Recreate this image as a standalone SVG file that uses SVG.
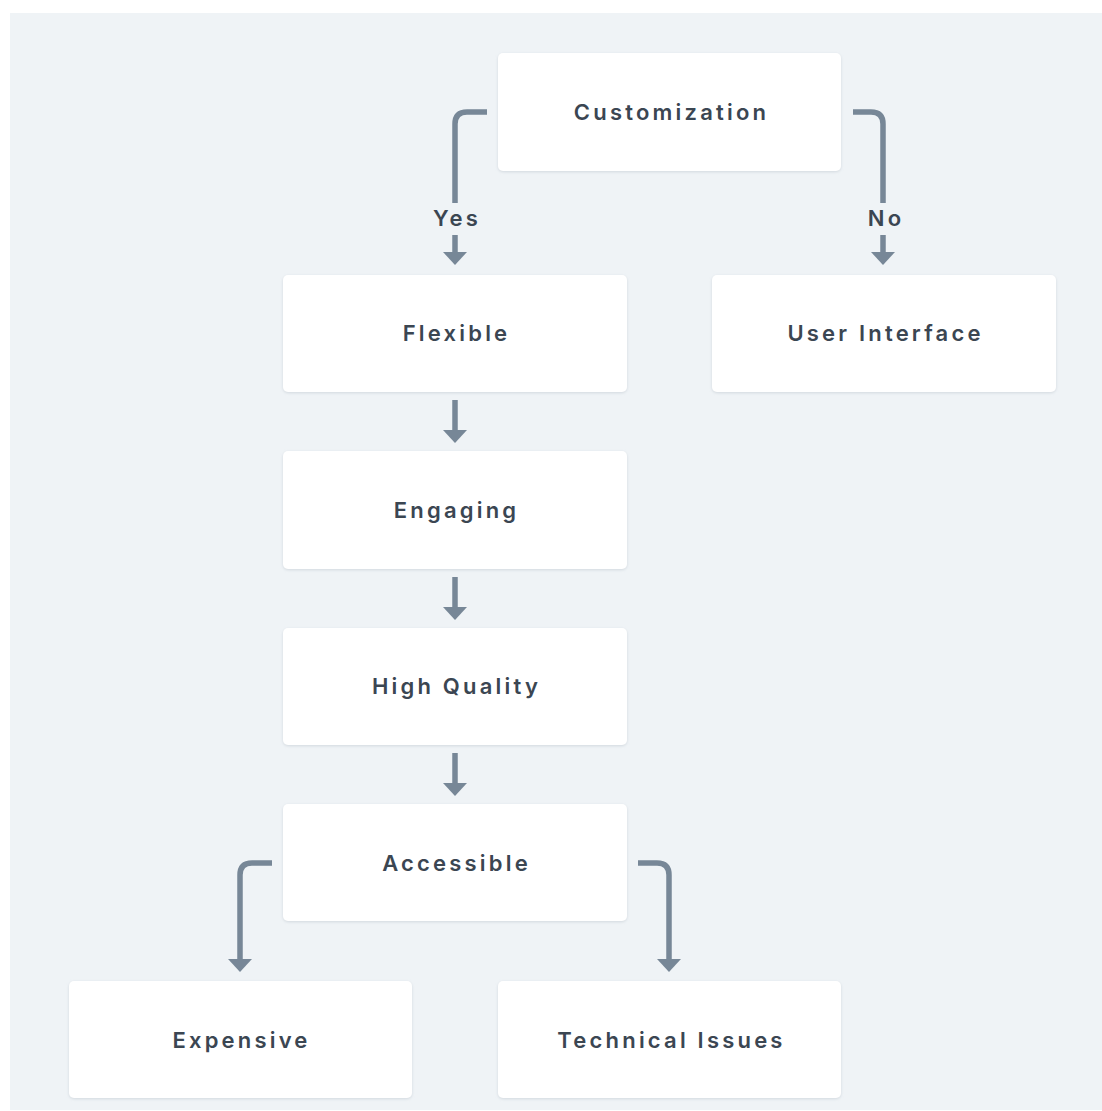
<svg xmlns="http://www.w3.org/2000/svg" width="1102" height="1111" viewBox="0 0 1102 1111">
<defs>
<style>
.bg{fill:#eff3f6}
.node rect{fill:#ffffff;filter:url(#sh)}
.node text,.lbl{font-family:Inter,"Noto Sans","DejaVu Sans",sans-serif;font-size:22px;font-weight:600;fill:#3b4652;text-anchor:middle;letter-spacing:3.2px}
.edge{fill:none;stroke:#778797;stroke-width:5.5}
.head{fill:#778797}
</style>
<filter id="sh" x="-10%" y="-10%" width="120%" height="130%">
<feDropShadow dx="0" dy="1" stdDeviation="1.5" flood-color="#9aa6b2" flood-opacity="0.35"/>
</filter>
</defs>
<rect class="bg" x="10" y="13" width="1092" height="1097"/>
<g id="connectors">
<path class="edge" d="M487,112 H467 Q455,112 455,124 V203"/>
<path class="edge" d="M455,235 V252"/>
<path class="head" d="M443,252 L467,252 L455,265 Z"/>
<text class="lbl" x="457" y="226">Yes</text>
<path class="edge" d="M853,112 H871 Q883,112 883,124 V203"/>
<path class="edge" d="M883,235 V252"/>
<path class="head" d="M871,252 L895,252 L883,265 Z"/>
<text class="lbl" x="886" y="226">No</text>
<path class="edge" d="M455,400 V430"/>
<path class="head" d="M443,430 L467,430 L455,443 Z"/>
<path class="edge" d="M455,577 V607"/>
<path class="head" d="M443,607 L467,607 L455,620 Z"/>
<path class="edge" d="M455,753 V783"/>
<path class="head" d="M443,783 L467,783 L455,796 Z"/>
<path class="edge" d="M272,863 H252 Q240,863 240,875 V959"/>
<path class="head" d="M228,959 L252,959 L240,972 Z"/>
<path class="edge" d="M638,863 H657 Q669,863 669,875 V959"/>
<path class="head" d="M657,959 L681,959 L669,972 Z"/>
</g>
<g id="customization" class="node"><rect x="498" y="53" width="343" height="118" rx="5"/><text x="671.5" y="120">Customization</text></g>
<g id="flexible" class="node"><rect x="283" y="275" width="344" height="117" rx="5"/><text x="456.5" y="341">Flexible</text></g>
<g id="user-interface" class="node"><rect x="712" y="275" width="344" height="117" rx="5"/><text x="885.5" y="341">User Interface</text></g>
<g id="engaging" class="node"><rect x="283" y="451" width="344" height="118" rx="5"/><text x="456.5" y="518">Engaging</text></g>
<g id="high-quality" class="node"><rect x="283" y="628" width="344" height="117" rx="5"/><text x="456.5" y="694">High Quality</text></g>
<g id="accessible" class="node"><rect x="283" y="804" width="344" height="117" rx="5"/><text x="456.5" y="871">Accessible</text></g>
<g id="expensive" class="node"><rect x="69" y="981" width="343" height="117" rx="5"/><text x="241.5" y="1048">Expensive</text></g>
<g id="technical-issues" class="node"><rect x="498" y="981" width="343" height="117" rx="5"/><text x="671.5" y="1048">Technical Issues</text></g>
</svg>
